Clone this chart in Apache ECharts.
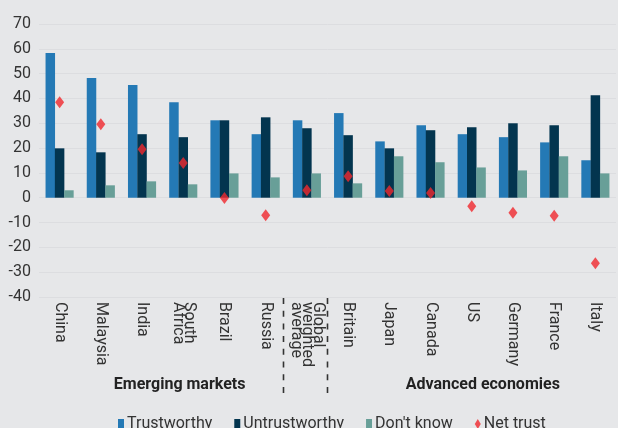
<!DOCTYPE html>
<html>
<head>
<meta charset="utf-8">
<script src="https://cdn.jsdelivr.net/npm/echarts@6/dist/echarts.min.js"></script>
<style>
  html, body { margin: 0; padding: 0; background: #e6e7e9; }
  #main { width: 618px; height: 428px; }
</style>
</head>
<body>
<div id="main"></div>
<script>
// 数据
var countries = ['China', 'Malaysia', 'India', 'South\nAfrica', 'Brazil', 'Russia',
  'Global\nweighted\naverage', 'Britain', 'Japan', 'Canada', 'US', 'Germany', 'France', 'Italy'];
var trustworthy = [58.3, 48.2, 45.4, 38.5, 31.2, 25.6, 31.2, 34.1, 22.7, 29.2, 25.6, 24.4, 22.3, 15.1];
var untrustworthy = [19.9, 18.3, 25.6, 24.4, 31.2, 32.4, 28.0, 25.2, 19.9, 27.2, 28.4, 30.0, 29.2, 41.3];
var dontKnow = [3.0, 5.0, 6.6, 5.4, 9.8, 8.2, 9.8, 5.8, 16.7, 14.3, 12.2, 11.0, 16.7, 9.8];
var netTrust = [38.5, 29.6, 19.5, 14.0, -0.1, -7.1, 3.0, 8.7, 2.7, 1.9, -3.4, -6.1, -7.3, -26.4];

// 分组
var groupNames = ['Emerging markets', 'Advanced economies'];
var groupFrom = [0, 7];
var groupTo = [5, 13];

var fontFamily = 'Roboto, "DejaVu Sans", sans-serif';
var textColor = '#333333';

var myChart = echarts.init(document.getElementById('main'));

var option = {
  backgroundColor: '#e6e7e9',
  animation: false,
  textStyle: { fontFamily: fontFamily },
  grid: { left: 39, right: 2, top: 24, bottom: 131 },
  legend: {
    bottom: -9,
    left: 113,
    itemWidth: 6,
    itemHeight: 10,
    itemGap: 22,
    textStyle: { fontSize: 16, color: textColor, padding: [0, 0, 0, -2] },
    data: [
      { name: 'Trustworthy', icon: 'rect' },
      { name: 'Untrustworthy', icon: 'rect' },
      { name: "Don't know", icon: 'rect' },
      { name: 'Net trust', icon: 'diamond', itemStyle: { color: '#f0282d' } }
    ]
  },
  xAxis: {
    type: 'category',
    data: countries,
    axisLine: { show: false },
    axisTick: { show: false },
    axisLabel: {
      interval: 0,
      rotate: -90,
      fontSize: 16,
      color: textColor,
      lineHeight: 11,
      margin: 5,
      align: 'left',
      verticalAlign: 'middle'
    }
  },
  yAxis: {
    type: 'value',
    min: -40,
    max: 70,
    interval: 10,
    axisLine: { show: false },
    axisTick: { show: false },
    axisLabel: { fontSize: 16, color: textColor, margin: 8 },
    splitLine: { lineStyle: { color: '#dcdde0', width: 1 } }
  },
  series: [
    {
      name: 'Trustworthy', type: 'bar', data: trustworthy,
      barWidth: 9.5, barGap: '-2%',
      itemStyle: { color: '#2479b5' }
    },
    {
      name: 'Untrustworthy', type: 'bar', data: untrustworthy,
      barWidth: 9.5, barGap: '-2%',
      itemStyle: { color: '#03354f' }
    },
    {
      name: "Don't know", type: 'bar', data: dontKnow,
      barWidth: 9.5, barGap: '-2%',
      itemStyle: { color: '#689f98' }
    },
    {
      name: 'Net trust', type: 'scatter', data: netTrust,
      symbol: 'diamond', symbolSize: [9, 12],
      itemStyle: { color: '#f0282d' },
      z: 5
    }
  ]
};
myChart.setOption(option);

// 分隔虚线和分组标题
function addGraphics() {
  var c0 = myChart.convertToPixel({ xAxisIndex: 0 }, 0);
  var c1 = myChart.convertToPixel({ xAxisIndex: 0 }, 1);
  var band = c1 - c0;
  var items = [];
  var lineShift = [-3, 0];
  [5, 6].forEach(function (i, k) {
    var x = Math.round(myChart.convertToPixel({ xAxisIndex: 0 }, i) + band / 2 + lineShift[k]) + 0.5;
    items.push({
      type: 'line',
      shape: { x1: x, y1: 298, x2: x, y2: 393 },
      style: { stroke: '#333333', lineWidth: 1.6, lineDash: [6, 6.7] }
    });
  });
  var textShift = [17, 11];
  for (var g = 0; g < groupNames.length; g++) {
    var xa = myChart.convertToPixel({ xAxisIndex: 0 }, groupFrom[g]);
    var xb = myChart.convertToPixel({ xAxisIndex: 0 }, groupTo[g]);
    items.push({
      type: 'text',
      x: (xa + xb) / 2 + textShift[g],
      y: 385,
      style: {
        text: groupNames[g],
        fill: '#222222',
        font: 'bold 16px ' + fontFamily,
        align: 'center',
        verticalAlign: 'middle'
      }
    });
  }
  myChart.setOption({ graphic: items });
}
addGraphics();
</script>
</body>
</html>
